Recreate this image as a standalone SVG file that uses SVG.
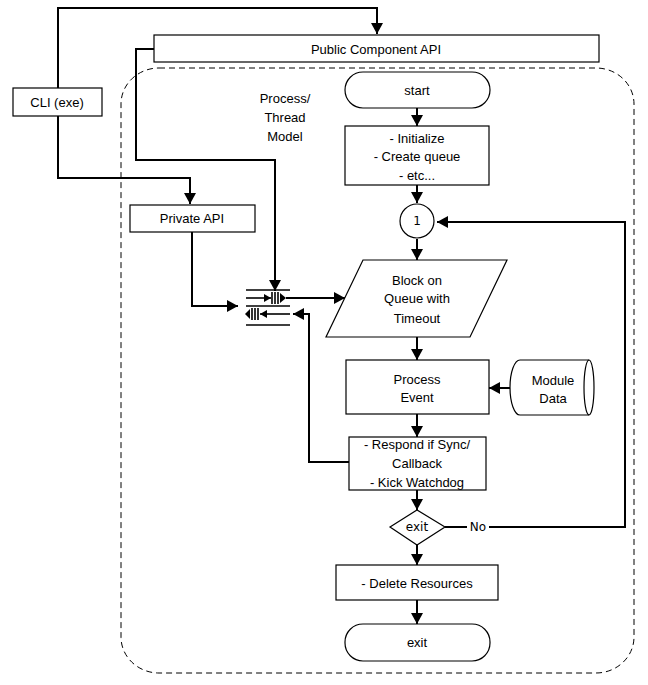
<svg xmlns="http://www.w3.org/2000/svg" width="648" height="685" viewBox="0 0 648 685">
<style>
.box{fill:#fff;stroke:#000;stroke-width:1.2}
.c{fill:none;stroke:#000;stroke-width:2}
.q{fill:none;stroke:#000;stroke-width:1.6}
.t{font-family:"Liberation Sans",Arial,sans-serif;font-size:13px;fill:#000;text-anchor:middle;dominant-baseline:central}
.v{font-family:"DejaVu Sans",Verdana,sans-serif;font-size:12px;fill:#000;text-anchor:middle;dominant-baseline:central}
</style>
<defs>
<marker id="ah" markerUnits="userSpaceOnUse" markerWidth="12" markerHeight="12" viewBox="0 0 12 12" refX="11" refY="6" orient="auto">
<path d="M0,0 L11,6 L0,12 Z" fill="#000"/>
</marker>
<marker id="sh" markerUnits="userSpaceOnUse" markerWidth="8" markerHeight="8" viewBox="0 0 8 8" refX="7" refY="4" orient="auto">
<path d="M0,0 L7,4 L0,8 Z" fill="#000"/>
</marker>
</defs>
<rect width="648" height="685" fill="#fff"/>
<rect id="boundary" x="121" y="68" width="513" height="605" rx="38" ry="36" fill="none" stroke="#000" stroke-width="1" stroke-dasharray="6,4"/>
<g id="connectors">
<polyline class="c" points="58,88 58,8 377,8 377,34" marker-end="url(#ah)"/>
<polyline class="c" points="58,116 58,178 190,178 190,204" marker-end="url(#ah)"/>
<polyline class="c" points="154,49 136,49 136,160 275,160 275,291" marker-end="url(#ah)"/>
<polyline class="c" points="192,232 192,306 238,306" marker-end="url(#ah)"/>
<polyline class="c" points="286,298 345,298" marker-end="url(#ah)"/>
<polyline class="c" points="349,462 309,462 309,314 293,314" marker-end="url(#ah)"/>
<line class="c" x1="417" y1="108" x2="417" y2="126" marker-end="url(#ah)"/>
<line class="c" x1="417" y1="185" x2="417" y2="203" marker-end="url(#ah)"/>
<line class="c" x1="417" y1="239" x2="417" y2="260" marker-end="url(#ah)"/>
<line class="c" x1="417" y1="337" x2="417" y2="360" marker-end="url(#ah)"/>
<line class="c" x1="511" y1="388" x2="489" y2="388" marker-end="url(#ah)"/>
<line class="c" x1="417" y1="414" x2="417" y2="437" marker-end="url(#ah)"/>
<line class="c" x1="417" y1="490" x2="417" y2="510" marker-end="url(#ah)"/>
<line class="c" x1="417" y1="545" x2="417" y2="565" marker-end="url(#ah)"/>
<line class="c" x1="417" y1="600" x2="417" y2="624" marker-end="url(#ah)"/>
<line class="c" x1="445" y1="527" x2="467" y2="527"/>
<polyline class="c" points="489,527 625,527 625,222 437,222" marker-end="url(#ah)"/>
<text class="v" x="478" y="527">No</text>
</g>
<g id="queue">
<line class="q" x1="246" y1="290" x2="290" y2="290"/>
<line class="q" x1="246" y1="306" x2="290" y2="306"/>
<line class="q" x1="246" y1="325" x2="290" y2="325"/>
<line class="q" x1="246" y1="298" x2="271" y2="298" marker-end="url(#sh)"/>
<line class="q" x1="272" y1="292" x2="272" y2="304"/>
<line class="q" x1="275" y1="292" x2="275" y2="304"/>
<line class="q" x1="278" y1="292" x2="278" y2="304"/>
<path d="M280,293 L286,298 L280,303 Z" fill="#000"/>
<line class="q" x1="290" y1="314" x2="260" y2="314" marker-end="url(#sh)"/>
<line class="q" x1="252" y1="308" x2="252" y2="320"/>
<line class="q" x1="255" y1="308" x2="255" y2="320"/>
<line class="q" x1="258" y1="308" x2="258" y2="320"/>
<path d="M250,309 L245,314 L250,319 Z" fill="#000"/>
</g>
<g id="public-api"><rect class="box" x="154" y="35" width="445" height="27"/><text class="t" x="376" y="49">Public Component API</text></g>
<g id="cli"><rect class="box" x="13" y="88" width="89" height="28"/><text class="t" x="57" y="102">CLI (exe)</text></g>
<g id="private-api"><rect class="box" x="130" y="205" width="125" height="27"/><text class="t" x="192" y="218">Private API</text></g>
<g id="model-label"><text class="t" x="285" y="98">Process/</text><text class="t" x="285" y="117">Thread</text><text class="t" x="285" y="136">Model</text></g>
<g id="start"><rect class="box" x="345" y="72" width="145" height="36" rx="18"/><text class="t" x="417" y="90">start</text></g>
<g id="init"><rect class="box" x="345" y="126" width="144" height="59"/><text class="t" x="417" y="138">- Initialize</text><text class="t" x="417" y="156">- Create queue</text><text class="t" x="417" y="175">- etc...</text></g>
<g id="connector-1"><circle class="box" cx="417" cy="221" r="17"/><text class="v" x="417" y="221">1</text></g>
<g id="block"><polygon class="box" points="363,260 507,260 470,337 326,337"/><text class="t" x="417" y="280">Block on</text><text class="t" x="417" y="298">Queue with</text><text class="t" x="417" y="318">Timeout</text></g>
<g id="process"><rect class="box" x="346" y="360" width="143" height="54"/><text class="t" x="417" y="379">Process</text><text class="t" x="417" y="397">Event</text></g>
<g id="module-data"><path class="box" d="M520,360 L589,360 A5,27.5 0 0 1 589,415 L520,415 A10,27.5 0 0 1 520,360 Z"/><path d="M589,360 A5,27.5 0 0 0 589,415" fill="none" stroke="#000" stroke-width="1.2"/><text class="t" x="553" y="380">Module</text><text class="t" x="553" y="398">Data</text></g>
<g id="respond"><rect class="box" x="349" y="437" width="137" height="53"/><text class="t" x="417" y="444">- Respond if Sync/</text><text class="t" x="417" y="463">Callback</text><text class="t" x="417" y="482">- Kick Watchdog</text></g>
<g id="exit-decision"><polygon class="box" points="390,527 417,510 445,527 417,545"/><text class="v" x="417" y="527">exit</text></g>
<g id="delete"><rect class="box" x="336" y="565" width="162" height="35"/><text class="t" x="417" y="583">- Delete Resources</text></g>
<g id="exit"><rect class="box" x="345" y="624" width="145" height="37" rx="18"/><text class="t" x="417" y="642">exit</text></g>
</svg>
